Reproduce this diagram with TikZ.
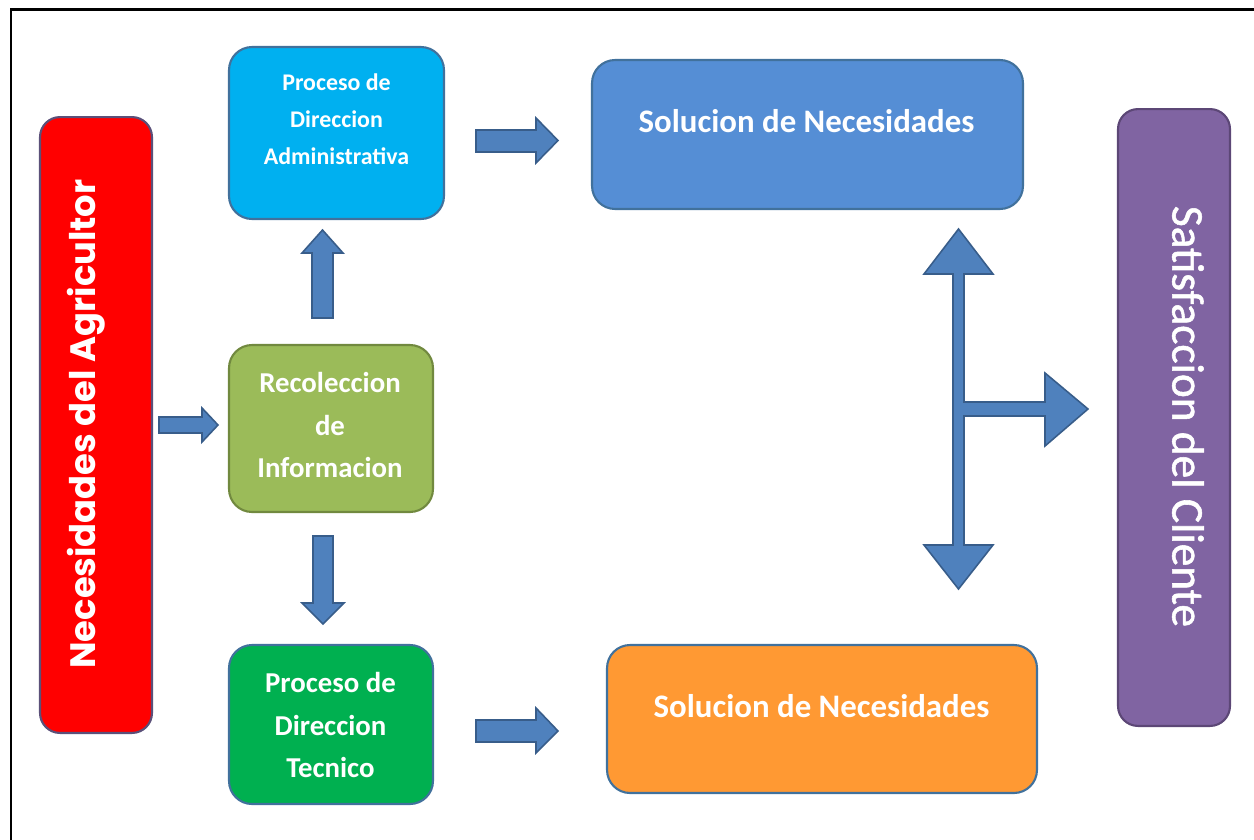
\documentclass[tikz,border=0pt]{standalone}
\usepackage{fontspec}
\setmainfont{Carlito}
\newfontfamily\popfont{Poppins}
\newfontfamily\satfont[FakeBold=1.2]{Carlito}
\definecolor{arrowfill}{HTML}{4F81BD}
\definecolor{arrowline}{HTML}{385D8A}
\definecolor{admblue}{HTML}{00B0F0}
\definecolor{solblue}{HTML}{558ED5}
\definecolor{recgreen}{HTML}{9BBB59}
\definecolor{tecgreen}{HTML}{00B050}
\definecolor{orng}{HTML}{FF9933}
\definecolor{purp}{HTML}{8064A2}
\definecolor{bluebd}{HTML}{41719C}
\definecolor{greenbd}{HTML}{71893F}
\definecolor{purpbd}{HTML}{5C4776}
\definecolor{redbd}{HTML}{5B5079}
\tikzset{
  box/.style={draw, line width=1.2pt, rounded corners=0.46cm, inner sep=0pt},
  txt/.style={text=white, inner sep=0pt, align=center},
  barrow/.style={fill=arrowfill, draw=arrowline, line width=0.9pt, line join=miter}
}
\begin{document}
\begin{tikzpicture}[x=0.02cm,y=-0.02cm]
\useasboundingbox (0,0) rectangle (1254,839);
\begin{scope}
\clip (0,0) rectangle (1254,839);
\draw[line width=1.4pt] (11,900) -- (11,9.5) -- (1300,9.5);
\end{scope}

% boxes
\node[box, fill=red, draw=redbd, rounded corners=0.4cm, minimum width=2.24cm, minimum height=12.32cm] (red) at (96,425) {};
\node[box, fill=admblue, draw=bluebd, minimum width=4.30cm, minimum height=3.44cm] (adm) at (336.5,133) {};
\node[box, fill=recgreen, draw=greenbd, minimum width=4.08cm, minimum height=3.34cm] (rec) at (331,428.5) {};
\node[box, fill=tecgreen, draw=bluebd, minimum width=4.08cm, minimum height=3.18cm] (tec) at (331,724.5) {};
\node[box, fill=solblue, draw=bluebd, minimum width=8.62cm, minimum height=2.98cm] (sola) at (807.5,134.5) {};
\node[box, fill=orng, draw=bluebd, minimum width=8.60cm, minimum height=2.96cm] (solb) at (822,719) {};
\node[box, fill=purp, draw=purpbd, rounded corners=0.4cm, minimum width=2.24cm, minimum height=12.34cm] (sat) at (1174,417.5) {};

% texts
\node[txt, rotate=90, font=\popfont\bfseries\fontsize{20.1}{24}\selectfont] (tred) at (86,424) {Necesidades del Agricultor};
\node[txt, font=\bfseries\fontsize{13.6}{21}\selectfont] (tadm) at (336.5,119) {Proceso de\\Direccion\\Administrativa};
\node[txt, font=\bfseries\fontsize{16.4}{24.1}\selectfont] (trec) at (330,425) {Recoleccion\\de\\Informacion};
\node[txt, font=\bfseries\fontsize{16.4}{24.1}\selectfont] (ttec) at (330.5,725) {Proceso de\\Direccion\\Tecnico};
\node[txt, font=\bfseries\fontsize{18.7}{22}\selectfont] (tsola) at (806.5,121) {Solucion de Necesidades};
\node[txt, font=\bfseries\fontsize{18.7}{22}\selectfont] (tsolb) at (821.5,706) {Solucion de Necesidades};
\node[txt, rotate=-90, font=\satfont\fontsize{25.8}{30}\selectfont] (tsat) at (1188,416.5) {Satisfaccion del Cliente};

% block arrows
% red -> rec
\draw[barrow] (159,417) -- (202,417) -- (202,408) -- (218,425) -- (202,442) -- (202,433) -- (159,433) -- cycle;
% rec -> adm (up)
\draw[barrow] (312,318) -- (312,253) -- (302,253) -- (322.5,230) -- (343,253) -- (333,253) -- (333,318) -- cycle;
% rec -> tec (down)
\draw[barrow] (313,536) -- (313,603) -- (302,603) -- (323,624) -- (344,603) -- (333,603) -- (333,536) -- cycle;
% adm -> sola
\draw[barrow] (476,130) -- (536,130) -- (536,118) -- (558,140.5) -- (536,163) -- (536,152) -- (476,152) -- cycle;
% tec -> solb
\draw[barrow] (476,720) -- (536,720) -- (536,708) -- (558,731) -- (536,753) -- (536,742) -- (476,742) -- cycle;
% cross arrow
\draw[barrow] (958.5,229) -- (993,274) -- (964,274) -- (964,402) -- (1045,402) -- (1045,373) -- (1088,409) -- (1045,446) -- (1045,416) -- (964,416) -- (964,545) -- (993,545) -- (958.5,589) -- (924,545) -- (953,545) -- (953,274) -- (924,274) -- cycle;
\end{tikzpicture}
\end{document}
